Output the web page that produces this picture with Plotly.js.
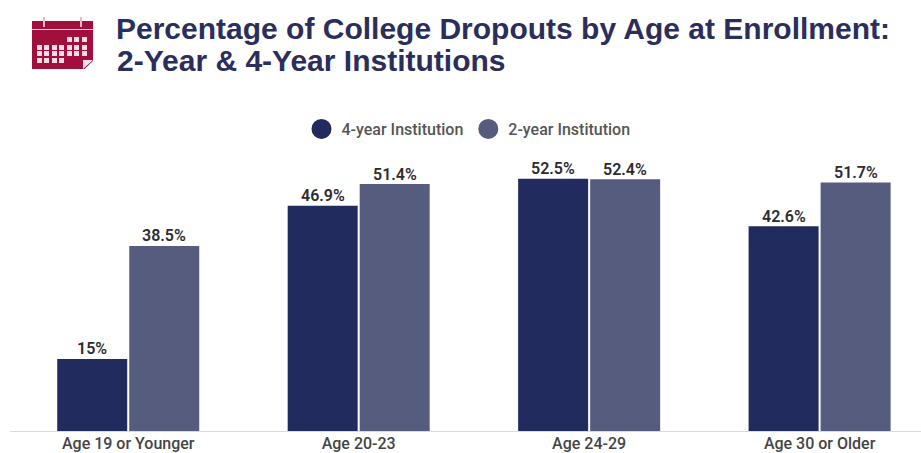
<!DOCTYPE html>
<html><head><meta charset="utf-8">
<script src="https://cdn.plot.ly/plotly-3.0.1.min.js"></script>
<style>html,body{margin:0;padding:0;background:#fff;overflow:hidden}</style></head>
<body><div id="chart" style="width:921px;height:453px"></div>
<script>
const categories = ["Age 19 or Younger","Age 20-23","Age 24-29","Age 30 or Older"];
const fourYear = [15,46.9,52.5,42.6];
const twoYear = [38.5,51.4,52.4,51.7];
const fourLabels = ["15%","46.9%","52.5%","42.6%"];
const twoLabels = ["38.5%","51.4%","52.4%","51.7%"];
const titleLine1 = "Percentage of College Dropouts by Age at Enrollment:";
const titleLine2 = "2-Year &amp; 4-Year Institutions";
const W=921,H=453,L=13,T=147,B=22;
const C4="#222b5e",C2="#555c7e",ICON="#a20f3c",TC="#2b2e5b";
const px=x=>(x-L)/(W-L), py=y=>(H-B-y)/(H-B-T);
function rect(x0,y0,x1,y1,c){return {type:"rect",xref:"paper",yref:"paper",x0:px(x0),x1:px(x1),y0:py(y0),y1:py(y1),fillcolor:c,line:{width:0},layer:"above"};}
const shapes=[];
shapes.push(rect(10,431,L,432,"#d8dadf"));
// calendar icon
shapes.push(rect(32,21,93,69,ICON));
shapes.push(rect(32,29,93,30,"#f3d8e0"));
shapes.push(rect(43,17,45,27,"#e8b8c8"));
shapes.push(rect(80,17,82,27,"#e8b8c8"));
[[37,45],[44,45],[52,45],[59,45],[37,51],[44,51],[52,51],[59,51],[37,58],[44,58],[52,58],[59,58],
 [67,37],[74,37],[82,37],[67,45],[74,45],[82,45],[67,51],[74,51],[82,51]].forEach(p=>shapes.push(rect(p[0],p[1],p[0]+5,p[1]+5,"#f7dbe5")));
shapes.push({type:"path",xref:"paper",yref:"paper",
  path:`M ${px(83)} ${py(69)} L ${px(93)} ${py(60)} L ${px(83)} ${py(60)} Z`,fillcolor:"#f5e6ea",line:{width:0},layer:"above"});
shapes.push({type:"path",xref:"paper",yref:"paper",
  path:`M ${px(84)} ${py(69.5)} L ${px(94)} ${py(69.5)} L ${px(94)} ${py(60)} Z`,fillcolor:"#ffffff",line:{width:0},layer:"above"});
const lf={family:"Roboto, sans-serif",size:16,color:"#2c2c30",weight:600};
function labels(vals,txt,xs){return categories.map((c,i)=>({x:c,y:vals[i],text:txt[i],xref:"x",yref:"y",showarrow:false,
  xanchor:"center",yanchor:"middle",xshift:xs,yshift:10,font:lf}));}
const titleFont={family:"Liberation Sans, Arial, sans-serif",size:30,color:TC,weight:700};
const traces=[
 {type:"bar",name:"4-year Institution",x:categories,y:fourYear,marker:{color:C4},showlegend:false,hoverinfo:"y"},
 {type:"bar",name:"2-year Institution",x:categories,y:twoYear,marker:{color:C2},showlegend:false,hoverinfo:"y"},
 {type:"scatter",mode:"markers",name:"4-year Institution",x:[null],y:[null],marker:{color:C4,size:16,symbol:"circle",line:{color:C4,width:4}},showlegend:true},
 {type:"scatter",mode:"markers",name:"2-year Institution",x:[null],y:[null],marker:{color:C2,size:16,symbol:"circle",line:{color:C2,width:4}},showlegend:true}
];
const layout={
 width:W,height:H,paper_bgcolor:"#fff",plot_bgcolor:"#fff",
 margin:{l:L,r:0,t:T,b:B,pad:0},
 barmode:"group",bargap:0.375,bargroupgap:0.028,
 title:{text:titleLine1,x:116/W,xanchor:"left",xref:"container",y:1-28/H,yanchor:"middle",font:titleFont},
 legend:{orientation:"h",x:468.5/W,xanchor:"center",y:1-129/H,yanchor:"middle",yref:"container",xref:"container",
   font:{family:"Roboto, sans-serif",size:16,color:"#555",weight:500},itemsizing:"trace",bgcolor:"rgba(0,0,0,0)"},
 xaxis:{type:"category",range:[-0.5,3.44],tickfont:{family:"Roboto, sans-serif",size:16,color:"#444",weight:500},
   showgrid:false,showline:true,linecolor:"#d8dadf",linewidth:1,ticks:"",ticklen:0,ticklabelstandoff:-2,zeroline:false,automargin:false,fixedrange:true},
 yaxis:{range:[0,59.1],visible:false,showgrid:false,zeroline:false,fixedrange:true},
 shapes:shapes,showlegend:true,
 annotations:labels(fourYear,fourLabels,-36).concat(labels(twoYear,twoLabels,36)).concat([
  {text:titleLine2,xref:"paper",yref:"paper",x:px(115),y:py(60),xanchor:"left",yanchor:"middle",showarrow:false,font:titleFont}
 ])
};
Plotly.newPlot("chart",traces,layout,{displayModeBar:false,staticPlot:true});
</script></body></html>
